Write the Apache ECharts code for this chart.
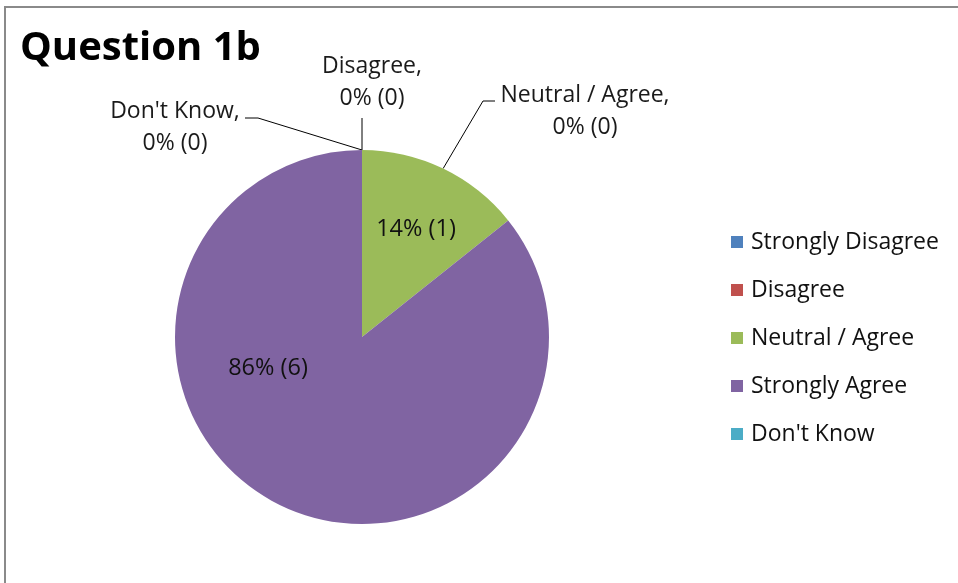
<!DOCTYPE html>
<html><head><meta charset="utf-8">
<script src="https://cdn.jsdelivr.net/npm/echarts@6/dist/echarts.min.js"></script>
<style>
html,body{margin:0;padding:0;background:#fff;}
#frame{position:absolute;left:4px;top:6px;width:954px;height:577px;border-top:2px solid #8a8a8a;border-left:2px solid #8a8a8a;box-sizing:border-box;}
#chart{position:absolute;left:0;top:0;width:958px;height:583px;}
</style></head><body>
<div id="frame"></div>
<div id="chart"></div>
<script>
const titleText = 'Question 1b';
const categories = ['Strongly Disagree', 'Disagree', 'Neutral / Agree', 'Strongly Agree', "Don't Know"];
const counts = [0, 0, 1, 6, 0];
const colors = ['#4F81BD', '#C0504D', '#9BBB59', '#8064A2', '#4BACC6'];
const outerLabels = ['', 'Disagree,\n0% (0)', 'Neutral / Agree,\n0% (0)', '', "Don't Know,\n0% (0)"];

const FONT = 'Open Sans';
const innerPos = {2: [416, 229], 3: [268, 368]};
const outerPos = {1: [372, 82], 2: [585, 111], 4: [175, 127]};
const outerElbow = {1: [[362, 118], [362, 118]], 2: [[483, 101], [495, 101]], 4: [[258, 118], [245, 118]]};

const chart = echarts.init(document.getElementById('chart'), null, {renderer: 'canvas'});
const pieCommon = {
  type: 'pie', center: [362, 337], radius: [0, 187], startAngle: 90, clockwise: true,
  avoidLabelOverlap: false, percentPrecision: 0, animation: false
};
chart.setOption({
  backgroundColor: 'transparent',
  title: {text: titleText, left: 20, top: 29, padding: 0,
    textStyle: {fontFamily: FONT, fontWeight: 'bold', fontSize: 40, color: '#000'}},
  legend: {
    orient: 'vertical', left: 731, top: 228, padding: 0, itemWidth: 12, itemHeight: 12, itemGap: 20,
    icon: 'rect', data: categories,
    textStyle: {fontFamily: FONT, fontSize: 23, lineHeight: 28, color: '#111', padding: [0, 0, 0, 3]}
  },
  series: [
    Object.assign({}, pieCommon, {
      name: 'main',
      itemStyle: {borderWidth: 0},
      label: {show: true, position: 'inside', formatter: '{d}% ({c})', fontFamily: FONT, fontSize: 23.5, color: '#111'},
      labelLine: {show: false},
      emphasis: {scale: false},
      data: categories.map((n, i) => ({
        name: n, value: counts[i], itemStyle: {color: colors[i]},
        label: {show: counts[i] > 0}
      })),
      labelLayout: function (p) {
        const pos = innerPos[p.dataIndex];
        if (!pos) return {};
        return {x: pos[0], y: pos[1], align: 'center', verticalAlign: 'middle'};
      }
    }),
    Object.assign({}, pieCommon, {
      name: 'outer', silent: true,
      itemStyle: {color: 'rgba(0,0,0,0)', borderWidth: 0},
      label: {show: true, position: 'outside', formatter: p => outerLabels[p.dataIndex],
        fontFamily: FONT, fontSize: 23, lineHeight: 32, color: '#1a1a1a', align: 'center'},
      labelLine: {show: true, length: 20, length2: 10, lineStyle: {color: '#000', width: 1}},
      data: categories.map((n, i) => ({
        name: n, value: counts[i],
        label: {show: outerLabels[i] !== ''}, labelLine: {show: outerLabels[i] !== ''}
      })),
      labelLayout: function (p) {
        const pos = outerPos[p.dataIndex];
        if (!pos) return {};
        const anchor = p.labelLinePoints ? p.labelLinePoints[0] : [362, 150];
        const el = outerElbow[p.dataIndex];
        return {x: pos[0], y: pos[1], align: 'center', verticalAlign: 'middle',
          labelLinePoints: [anchor, el[0], el[1]]};
      }
    })
  ]
});
</script>
</body></html>
